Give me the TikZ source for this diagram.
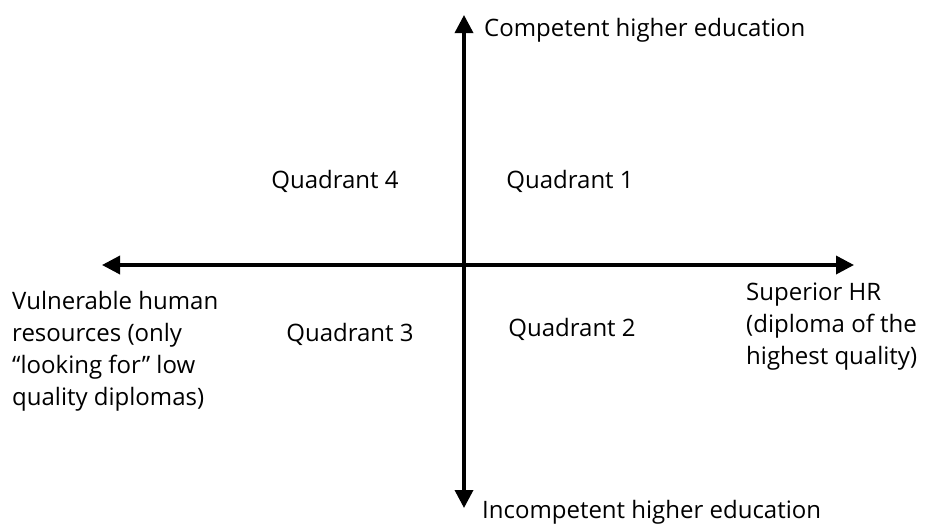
\documentclass[tikz,border=0pt]{standalone}
\usepackage{fontspec}
\setmainfont{Open Sans}
\usetikzlibrary{arrows.meta}
\begin{document}
\begin{tikzpicture}
  [x=1pt,y=-1pt,every node/.style={font=\fontsize{24}{32}\selectfont,inner sep=0pt},
   axis/.style={line width=3.5pt,{Triangle[length=18pt,width=18pt]}-{Triangle[length=18pt,width=18pt]}}]
  \useasboundingbox (0,0) rectangle (925,523);
  \coordinate (top) at (464,15);
  \coordinate (bottom) at (464,508);
  \coordinate (left) at (102,265);
  \coordinate (right) at (854,265);
  \draw[axis] (left) -- (right);
  \draw[axis] (bottom) -- (top);
  \node[anchor=west] (comp) at (484,30) {Competent higher education};
  \node[anchor=west] (incomp) at (482,512) {Incompetent higher education};
  \node (q4) at (335,181) {Quadrant 4};
  \node (q1) at (570,181) {Quadrant 1};
  \node (q3) at (350,334) {Quadrant 3};
  \node (q2) at (572,329) {Quadrant 2};
  \node[anchor=north west,align=left] (vuln) at (12,291)
    {Vulnerable human\\resources (only\\“looking for” low\\quality diplomas)};
  \node[anchor=north west,align=left] (sup) at (746,283)
    {Superior HR\\(diploma of the\\highest quality)};
\end{tikzpicture}
\end{document}
